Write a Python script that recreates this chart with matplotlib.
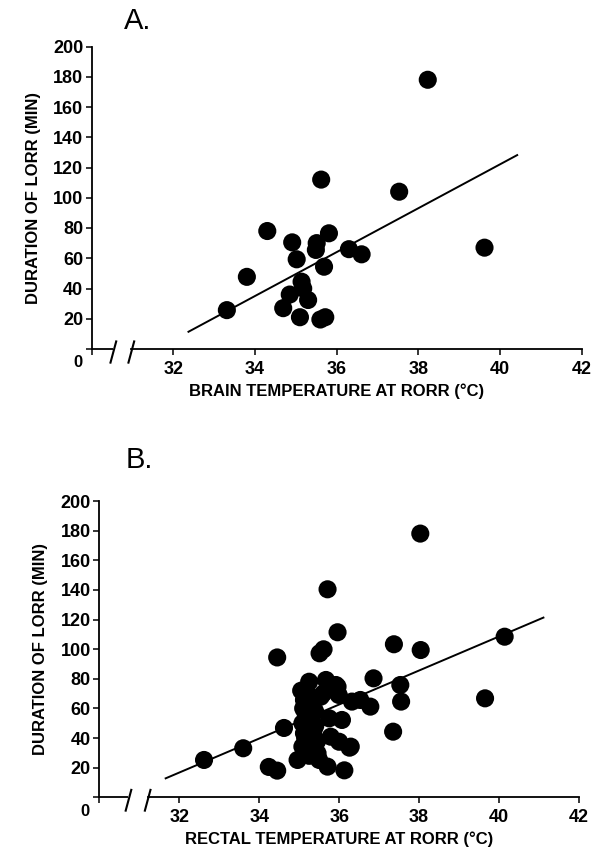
import matplotlib
matplotlib.use("Agg")
import matplotlib.pyplot as plt
import numpy as np

plt.rcParams['font.family'] = ['Liberation Sans', 'DejaVu Sans']

# Panel A: brain temperature vs duration of LORR
brain_temp = [38.23, 35.62, 37.53, 39.62, 34.30, 34.91, 35.81, 35.51, 35.49, 35.02,
              36.30, 36.61, 35.69, 33.80, 35.14, 35.18, 35.30, 34.85, 34.69, 33.31,
              35.10, 35.60, 35.72]
brain_dur = [178, 112, 104, 67, 78, 70.5, 76.5, 70, 65.5, 59.3,
             66, 62.6, 54.4, 47.7, 44.5, 40, 32.4, 36, 27, 25.7,
             21, 19.5, 21]
brain_fit_x = [32.37, 40.42]
brain_fit_y = [11.4, 128.2]

# Panel B: rectal temperature vs duration of LORR
rectal_temp = [38.03, 35.71, 35.96, 37.37, 38.04, 40.14, 35.61, 35.51, 34.45, 36.86,
               37.53, 37.55, 39.65, 36.78, 36.53, 36.32, 37.35, 34.62, 33.60, 32.62,
               34.24, 34.45, 34.96, 35.71, 36.13, 36.26, 36.07, 35.96, 35.99, 35.92,
               35.67, 35.25, 35.21, 35.12, 35.54, 35.16, 35.08, 35.75, 35.12, 35.79,
               36.00, 36.29, 35.25, 35.46, 35.50, 35.08, 35.29, 35.10, 35.20, 35.40,
               35.30, 35.15, 35.35, 35.45, 35.60, 35.05, 35.25, 35.40]
rectal_dur = [178, 140.4, 111.4, 103.3, 99.4, 108.4, 99.9, 97.2, 94.4, 80.3,
              75.8, 64.6, 66.8, 61.2, 65.7, 64.6, 44.3, 46.8, 33.1, 25.2,
              20.5, 18.0, 25.2, 20.7, 18.2, 33.5, 52.2, 74.7, 69.1, 75.8,
              79.2, 78.0, 70.2, 65.7, 67.9, 56.7, 50.0, 53.3, 43.2, 40.9,
              37.5, 34.2, 36.5, 29.7, 25.2, 34.2, 47.7, 60.0, 61.0, 58.0,
              54.0, 40.0, 44.0, 38.0, 70.0, 72.0, 28.0, 48.0]
rectal_fit_x = [31.66, 41.11]
rectal_fit_y = [12.8, 121.3]

xticks = [30, 32, 34, 36, 38, 40, 42]
xticklabels = ['', '32', '34', '36', '38', '40', '42']
yticks = [0, 20, 40, 60, 80, 100, 120, 140, 160, 180, 200]
yticklabels = [''] + [str(v) for v in yticks[1:]]

fig = plt.figure(figsize=(5.99, 8.48), dpi=100)
W, H = 599, 848


def panel(rect, xs, ys, fx, fy, xlabel, letter, letter_xy, breaks):
    ax = fig.add_axes(rect)
    ax.scatter(xs, ys, s=170, color='black', edgecolors='none', zorder=3, clip_on=False)
    ax.plot(fx, fy, color='black', lw=1.4, zorder=2)
    ax.set_xlim(30, 42)
    ax.set_ylim(0, 200)
    for s in ['top', 'right']:
        ax.spines[s].set_visible(False)
    ax.spines['left'].set_linewidth(1.3)
    ax.spines['bottom'].set_linewidth(1.3)
    ax.spines['bottom'].set_bounds(breaks[1], 42)
    ax.plot([30, breaks[0]], [0, 0], color='black', lw=1.3, clip_on=False,
            solid_capstyle='butt')
    # axis break marks
    for bx in breaks:
        ax.plot([bx - 0.07, bx + 0.07], [-9, 5], color='black', lw=1.5, clip_on=False)
    ax.set_xticks(xticks)
    ax.set_xticklabels(xticklabels)
    ax.set_yticks(yticks)
    ax.set_yticklabels(yticklabels)
    ax.tick_params(axis='both', direction='out', length=4.5, width=1.1,
                   labelsize=13)
    ax.tick_params(axis='y', pad=1.5)
    ax.tick_params(axis='x', pad=4)
    for lab in ax.get_xticklabels() + ax.get_yticklabels():
        lab.set_fontweight('bold')
    ax.annotate('0', xy=(30, 0), xytext=(-10, -10), textcoords='offset points',
                ha='center', va='center', fontsize=12, fontweight='bold')
    ax.set_xlabel(xlabel, fontsize=12, fontweight='bold', labelpad=4)
    ax.set_ylabel('DURATION OF LORR (MIN)', fontsize=12, fontweight='bold', labelpad=9)
    fig.text(letter_xy[0] / W, 1 - letter_xy[1] / H, letter, fontsize=21,
             fontweight='normal', ha='left', va='center')
    return ax


panel([91.7 / W, 1 - 349 / H, (581.7 - 91.7) / W, (349 - 46.5) / H],
      brain_temp, brain_dur, brain_fit_x, brain_fit_y,
      'BRAIN TEMPERATURE AT RORR (°C)', 'A.', (124, 21), (30.53, 30.97))
panel([99.3 / W, 1 - 797.3 / H, (579 - 99.3) / W, (797.3 - 501) / H],
      rectal_temp, rectal_dur, rectal_fit_x, rectal_fit_y,
      'RECTAL TEMPERATURE AT RORR (°C)', 'B.', (126, 460), (30.73, 31.21))

fig.savefig('out.png', dpi=100)
